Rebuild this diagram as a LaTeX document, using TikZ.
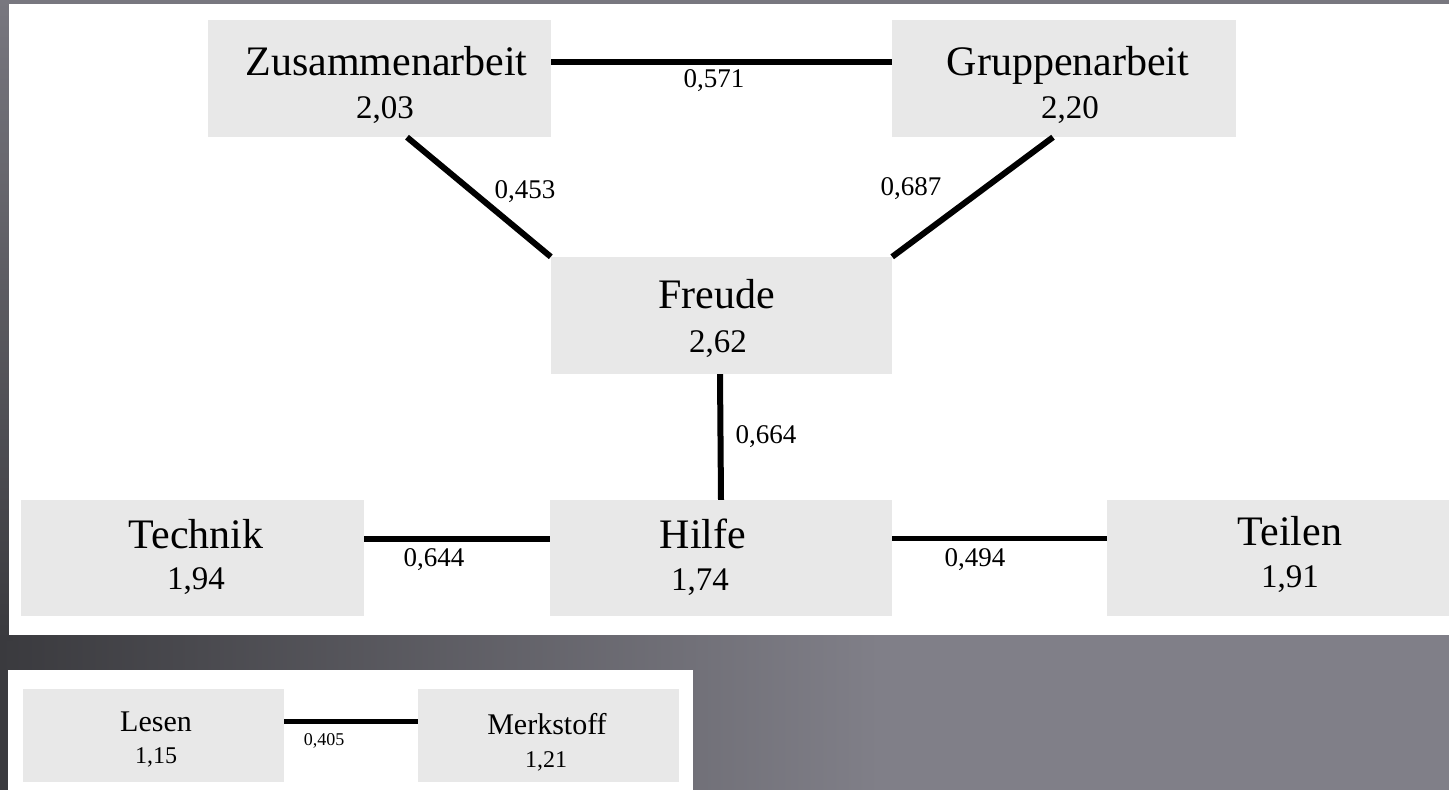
\documentclass[tikz,border=0pt]{standalone}
\usepackage{fontspec}
\setmainfont{Liberation Serif}
\definecolor{boxgray}{HTML}{E8E8E8}
\definecolor{bgdark}{HTML}{3A3A3E}
\definecolor{bglight}{HTML}{807F88}
\definecolor{bgtop}{HTML}{78777F}
\tikzset{
  box/.style={fill=boxgray, draw=none, inner sep=0pt, minimum width=343pt, minimum height=117pt},
  smallbox/.style={fill=boxgray, draw=none, inner sep=0pt, minimum width=261pt, minimum height=93pt},
  nm/.style={anchor=base, inner sep=0pt, font=\fontsize{42}{48}\selectfont},
  val/.style={anchor=base, inner sep=0pt, font=\fontsize{33}{38}\selectfont},
  snm/.style={anchor=base, inner sep=0pt, font=\fontsize{30}{34}\selectfont},
  sval/.style={anchor=base, inner sep=0pt, font=\fontsize{24}{28}\selectfont},
  lab/.style={anchor=base, inner sep=0pt, font=\fontsize{27}{30}\selectfont},
  slab/.style={anchor=base, inner sep=0pt, font=\fontsize{18}{20}\selectfont},
  conn/.style={line width=6pt, black},
  thinconn/.style={line width=5pt, black}
}
\begin{document}
\begin{tikzpicture}[x=1pt,y=-1pt]
\useasboundingbox (0,0) rectangle (1449,790);
% background
\fill[bglight] (0,0) rectangle (1449,790);
\shade[left color=bgdark, right color=bglight] (0,0) rectangle (880,790);
\shade[top color=bgtop, bottom color=bgdark] (0,0) rectangle (12,640);
\fill[bgtop] (0,0) rectangle (1449,4);
% panels
\fill[white] (9,4) rectangle (1449,635);
\fill[white] (8,670) rectangle (693,790);
% boxes
\node[box] (zus) at (379.5,78.5) {};
\node[box, minimum width=344pt] (grp) at (1064,78.5) {};
\node[box, minimum width=341pt] (fre) at (721.5,315.5) {};
\node[box, minimum height=116pt] (tec) at (192.5,558) {};
\node[box, minimum width=342pt, minimum height=116pt] (hil) at (721,558) {};
\node[box, minimum height=116pt] (tei) at (1278.5,558) {};
\node[smallbox] (les) at (153.5,735.5) {};
\node[smallbox] (mer) at (548.5,735.5) {};
% texts
\node[nm] (zusN) at (386.5,75) {Zusammenarbeit};
\node[val] (zusV) at (385,118) {2,03};
\node[nm] (grpN) at (1068,75) {Gruppenarbeit};
\node[val] (grpV) at (1070,118) {2,20};
\node[nm] (freN) at (716.5,308) {Freude};
\node[val] (freV) at (718,352) {2,62};
\node[nm] (tecN) at (196,548) {Technik};
\node[val] (tecV) at (196,589) {1,94};
\node[nm] (hilN) at (703,548) {Hilfe};
\node[val] (hilV) at (700,590) {1,74};
\node[nm] (teiN) at (1290,545) {Teilen};
\node[val] (teiV) at (1290,587) {1,91};
\node[snm] (lesN) at (156,731) {Lesen};
\node[sval] (lesV) at (156,763) {1,15};
\node[snm] (merN) at (547,734) {Merkstoff};
\node[sval] (merV) at (546,767) {1,21};
% connectors
\draw[conn] ([yshift=16.5pt]zus.east) -- ([yshift=16.5pt]grp.west);
\draw[conn] ([xshift=27.5pt]zus.south) -- (fre.north west);
\draw[conn] ([xshift=-11pt]grp.south) -- (fre.north east);
\draw[conn] ([xshift=-1.5pt]fre.south) -- (hil.north);
\draw[conn] ([yshift=19pt]tec.east) -- ([yshift=19pt]hil.west);
\draw[thinconn] ([yshift=20pt]hil.east) -- ([yshift=20pt]tei.west);
\draw[thinconn] ([yshift=14pt]les.east) -- ([yshift=14pt]mer.west);
% labels
\node[lab] (l1) at (714,87) {0,571};
\node[lab] (l2) at (525,198) {0,453};
\node[lab] (l3) at (911,195) {0,687};
\node[lab] (l4) at (766,443) {0,664};
\node[lab] (l5) at (434,566) {0,644};
\node[lab] (l6) at (975,566) {0,494};
\node[slab] (l7) at (324,745) {0,405};
\end{tikzpicture}
\end{document}
